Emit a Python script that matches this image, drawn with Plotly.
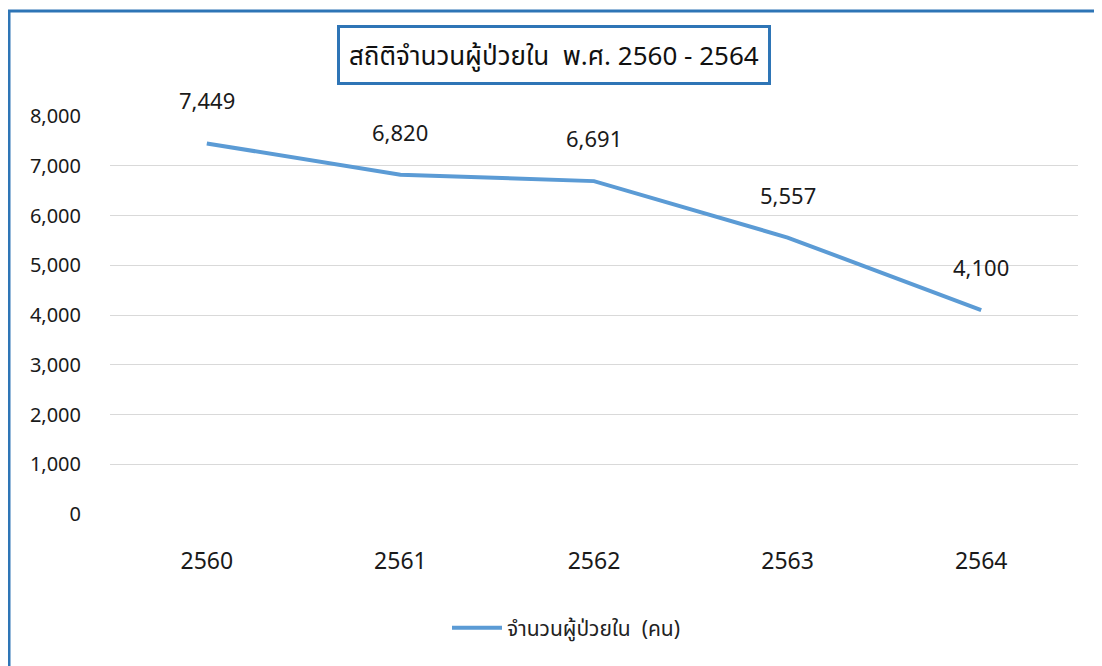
import plotly.graph_objects as go

years = ["2560", "2561", "2562", "2563", "2564"]
patients = [7449, 6820, 6691, 5557, 4100]
labels = ["7,449", "6,820", "6,691", "5,557", "4,100"]
series_name = "จำนวนผู้ป่วยใน  (คน)"
title_text = "สถิติจำนวนผู้ป่วยใน  พ.ศ. 2560 - 2564"

# page has an 8px body margin; work in reference-pixel coords minus 8
OFF = 8
W, H = 1102 - OFF, 666 - OFF
PL, PR, PT, PB = 110, 1078, 116, 514  # plot area in reference pixels
L, R, T, B = PL - OFF, W - (PR - OFF), PT - OFF, H - (PB - OFF)
pw, ph = W - L - R, H - T - B

def px(x):
    return (x - OFF - L) / pw

def py(y):
    return (H - B - (y - OFF)) / ph

font = "'Noto Sans', 'Noto Sans Thai', sans-serif"

fig = go.Figure()
fig.add_trace(go.Scatter(
    x=years, y=patients, mode="lines", name=series_name,
    line=dict(color="#5B9BD5", width=4),
))

for i, (yv, t) in enumerate(zip(patients, labels)):
    fig.add_annotation(x=i, y=yv, text=t, showarrow=False, yshift=43,
                       font=dict(size=22, color="#1a1a1a", family=font))

fig.add_annotation(
    xref="paper", yref="paper", x=px(553.5), y=py(55),
    xanchor="center", yanchor="middle",
    text=title_text, showarrow=False,
    font=dict(size=26, color="#111111", family=font),
    bordercolor="#2E75B6", borderwidth=3, borderpad=9, bgcolor="white",
)

fig.add_shape(type="rect", xref="paper", yref="paper",
              x0=px(9), x1=px(1200), y0=py(760), y1=py(11),
              line=dict(color="#2E75B6", width=3), layer="above")

fig.update_layout(
    width=W, height=H,
    margin=dict(l=L, r=R, t=T, b=B),
    paper_bgcolor="white", plot_bgcolor="white",
    showlegend=True,
    legend=dict(orientation="h", x=px(566), xanchor="center", y=py(628), yanchor="middle",
                font=dict(size=21, color="#222222", family=font), itemwidth=50),
)
fig.update_xaxes(type="category", range=[-0.5, 4.5], showgrid=False, zeroline=False,
                 showline=False, ticks="", ticklabelstandoff=31,
                 tickfont=dict(size=23, color="#1a1a1a", family=font))
fig.update_yaxes(range=[0, 8000], dtick=1000, tickformat=",", showgrid=True,
                 gridcolor="#D9D9D9", gridwidth=1, zeroline=False, showline=False,
                 ticks="", ticklabelstandoff=28,
                 tickfont=dict(size=20, color="#1a1a1a", family=font))

fig.write_html("out.html")
